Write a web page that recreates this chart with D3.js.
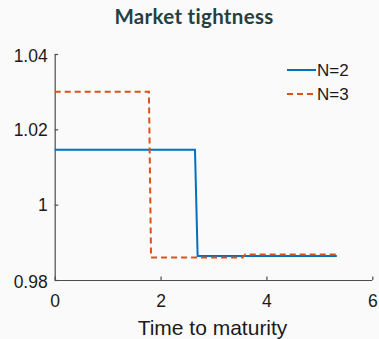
<!DOCTYPE html>
<html>
<head>
<meta charset="utf-8">
<script src="https://cdn.jsdelivr.net/npm/d3@7"></script>
<style>
  html, body { margin: 0; padding: 0; background: #fafafa; }
  svg { display: block; }
</style>
</head>
<body>
<svg id="chart" width="379" height="339"></svg>
<script>
// Time to maturity (x) and market tightness (y) for each number of traders
const timeN2 = [0, 2.65, 2.7, 5.33];
const tightN2 = [1.0146, 1.0146, 0.9864, 0.9864];
const timeN3 = [0, 1.78, 1.82, 3.55, 3.6, 5.33];
const tightN3 = [1.030, 1.030, 0.986, 0.986, 0.9868, 0.9868];
const seriesNames = ["N=2", "N=3"];
const xTicks = [0, 2, 4, 6];
const yTicks = [0.98, 1, 1.02, 1.04];

const svg = d3.select("#chart");
const margin = { left: 54.7, right: 6.7, top: 54, bottom: 59 };
const W = 379, H = 339;

const x = d3.scaleLinear().domain([0, 6]).range([margin.left, W - margin.right]);
const y = d3.scaleLinear().domain([0.98, 1.04]).range([H - margin.bottom, margin.top]);

// Title
svg.append("text")
  .attr("x", 194).attr("y", 24)
  .attr("text-anchor", "middle")
  .attr("font-family", "Lato, 'Open Sans', sans-serif")
  .attr("font-weight", "bold")
  .attr("font-size", 20.5)
  .attr("letter-spacing", 0.3)
  .attr("fill", "#25403f")
  .text("Market tightness");

const axisColor = "#4d4d4d";
const tickFont = "'Liberation Sans', Arial, sans-serif";
const tickSize = 17.5;

// Y axis with inward ticks
const yAxis = svg.append("g")
  .attr("transform", `translate(${margin.left},0)`)
  .call(d3.axisRight(y).tickValues(yTicks).tickSize(3.5).tickFormat(d => String(+d.toFixed(2))));
yAxis.select(".domain").attr("stroke", axisColor).attr("stroke-width", 1.2).attr("d", `M0.5,${y(1.04)}V${y(0.98)}`);
yAxis.selectAll(".tick line").attr("stroke", axisColor).attr("stroke-width", 1.2);
yAxis.selectAll(".tick text")
  .attr("x", -7).attr("text-anchor", "end")
  .attr("font-family", tickFont).attr("font-size", tickSize).attr("fill", "#1a1a1a")
  .attr("dy", "0.35em");
yAxis.selectAll(".tick").filter(d => d === 0.98).select("text").attr("dy", "0.45em");
yAxis.selectAll(".tick").filter(d => d === 1.04).select("text").attr("dy", "0.42em");

// X axis with inward ticks
const xAxis = svg.append("g")
  .attr("transform", `translate(0,${y(0.98)})`)
  .call(d3.axisTop(x).tickValues(xTicks).tickSize(3.5).tickFormat(d3.format("d")));
xAxis.select(".domain").attr("stroke", axisColor).attr("stroke-width", 1.2).attr("d", `M${x(0)},0.5H${x(6)}`);
xAxis.selectAll(".tick line").attr("stroke", axisColor).attr("stroke-width", 1.2);
xAxis.selectAll(".tick text")
  .attr("y", 27).attr("dy", 0)
  .attr("font-family", tickFont).attr("font-size", tickSize).attr("fill", "#1a1a1a");

// X axis title
svg.append("text")
  .attr("x", 212.5).attr("y", 335)
  .attr("text-anchor", "middle")
  .attr("font-family", tickFont).attr("font-size", 21).attr("fill", "#1a1a1a")
  .text("Time to maturity");

const line = d3.line().x(d => x(d[0])).y(d => y(d[1]));
const colors = ["#0072BD", "#D95319"];
const dashes = [null, "6,4"];

const data = [
  d3.zip(timeN2, tightN2),
  d3.zip(timeN3, tightN3)
];

data.forEach((pts, i) => {
  svg.append("path")
    .datum(pts)
    .attr("d", line)
    .attr("fill", "none")
    .attr("stroke", colors[i])
    .attr("stroke-width", 2)
    .attr("stroke-dasharray", dashes[i]);
});

// Legend
const legend = svg.append("g");
seriesNames.forEach((name, i) => {
  const ly = 70 + i * 24;
  legend.append("line")
    .attr("x1", 287).attr("x2", 316).attr("y1", ly).attr("y2", ly)
    .attr("stroke", colors[i]).attr("stroke-width", 2)
    .attr("stroke-dasharray", dashes[i]);
  legend.append("text")
    .attr("x", 317).attr("y", ly).attr("dy", "0.36em")
    .attr("font-family", tickFont).attr("font-size", 17).attr("fill", "#1a1a1a")
    .text(name);
});
</script>
</body>
</html>
